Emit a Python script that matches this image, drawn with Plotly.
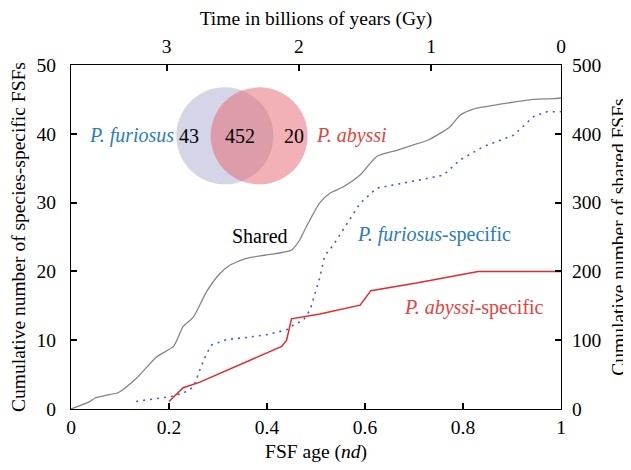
import plotly.graph_objects as go

# Data
shared_x = [0, 0.039, 0.049, 0.073, 0.097, 0.134, 0.175, 0.209, 0.229, 0.25, 0.277, 0.304, 0.324, 0.358,
            0.399, 0.45, 0.467, 0.481, 0.508, 0.529, 0.556, 0.59, 0.624, 0.665, 0.699, 0.729, 0.773,
            0.794, 0.821, 0.876, 0.944, 0.984, 1.0]
shared_y = [0, 11, 16, 20, 24, 45, 76, 91, 120, 134, 171, 197, 209, 219, 224, 231, 246, 266, 300, 314,
            323, 340, 367, 376, 384, 391, 410, 427, 436, 443, 450, 451, 452]

furiosus_x = [0.133, 0.202, 0.229, 0.25, 0.263, 0.277, 0.287, 0.318, 0.358, 0.399, 0.44, 0.454, 0.474,
              0.488, 0.508, 0.518, 0.535, 0.563, 0.59, 0.624, 0.671, 0.712, 0.76, 0.794, 0.841, 0.903,
              0.944, 0.971, 1.0]
furiosus_y = [1.1, 1.8, 2.3, 3.2, 5.7, 8.1, 9.3, 10.1, 10.4, 10.8, 11.5, 12.2, 12.9, 14.4, 19.2, 22.3,
              23.8, 27.0, 29.9, 32.1, 32.8, 33.3, 34.0, 36.2, 38.1, 39.8, 42.5, 43.2, 43.2]

abyssi_x = [0.2, 0.229, 0.263, 0.43, 0.44, 0.45, 0.508, 0.59, 0.612, 0.705, 0.831, 1.0]
abyssi_y = [1.1, 3.1, 3.9, 9.1, 10.0, 13.1, 13.8, 15.1, 17.2, 18.3, 20.0, 20.0]

venn_counts = ["43", "452", "20"]
species = ["P. furiosus", "P. abyssi"]

x_ticks = [0, 0.2, 0.4, 0.6, 0.8, 1]
x_ticktext = ["0", "0.2", "0.4", "0.6", "0.8", "1"]
gy_tickvals = [0.195, 0.465, 0.735, 1.0]
gy_ticktext = ["3", "2", "1", "0"]

FONT = "Liberation Serif"
BLUE_TXT = "#2a7cbf"
RED_TXT = "#e8413c"
TS = 20     # annotation size
TTS = 19.5  # axis title size
KS = 19.5   # tick size

fig = go.Figure()

fig.add_trace(go.Scatter(x=shared_x, y=shared_y, mode="lines", yaxis="y2",
                         line=dict(color="#858585", width=1.3, shape="spline", smoothing=0.6),
                         showlegend=False))
fig.add_trace(go.Scatter(x=furiosus_x, y=furiosus_y, mode="lines",
                         line=dict(color="#3b5fcc", width=1.6, dash="2px,5px"),
                         showlegend=False))
fig.add_trace(go.Scatter(x=abyssi_x, y=abyssi_y, mode="lines",
                         line=dict(color="#e8282a", width=1.5),
                         showlegend=False))
# invisible trace to activate top axis
fig.add_trace(go.Scatter(x=[0, 1], y=[0, 0], xaxis="x2", mode="markers",
                         marker=dict(opacity=0), showlegend=False, hoverinfo="skip"))

# Venn circles (data coords on left axis)
cy, ry, rx = 39.7, 7.05, 0.099
fig.add_shape(type="circle", xref="x", yref="y", x0=0.314 - rx, x1=0.314 + rx, y0=cy - ry, y1=cy + ry,
              fillcolor="rgba(170,172,207,0.5)", line=dict(width=0))
fig.add_shape(type="circle", xref="x", yref="y", x0=0.384 - rx, x1=0.384 + rx, y0=cy - ry, y1=cy + ry,
              fillcolor="rgba(230,100,110,0.5)", line=dict(width=0))

tf = dict(family=FONT, size=TS, color="black")
fig.add_annotation(x=0.217, y=cy, text=venn_counts[0], showarrow=False, font=tf, xanchor="left")
fig.add_annotation(x=0.345, y=cy, text=venn_counts[1], showarrow=False, font=tf)
fig.add_annotation(x=0.430, y=cy, text=venn_counts[2], showarrow=False, font=tf, xanchor="left")
fig.add_annotation(x=0.215, y=cy, text="<i>%s</i>" % species[0], showarrow=False,
                   font=dict(family=FONT, size=TS, color=BLUE_TXT), xanchor="right")
fig.add_annotation(x=0.495, y=cy, text="<i>%s</i>" % species[1], showarrow=False,
                   font=dict(family=FONT, size=TS, color=RED_TXT), xanchor="left")
fig.add_annotation(x=0.385, y=25.2, text="Shared", showarrow=False,
                   font=dict(family=FONT, size=TS, color="black"))
fig.add_annotation(x=0.58, y=25.4, text="<i>P. furiosus</i>-specific", showarrow=False,
                   font=dict(family=FONT, size=TS, color=BLUE_TXT), xanchor="left")
fig.add_annotation(x=0.676, y=14.8, text="<i>P. abyssi</i>-specific", showarrow=False,
                   font=dict(family=FONT, size=TS, color=RED_TXT), xanchor="left")

axis_common = dict(showgrid=False, zeroline=False, showline=True, linecolor="black", linewidth=1.2,
                   ticks="inside", ticklen=6, tickwidth=1.5, tickcolor="black", automargin=False,
                   tickfont=dict(family=FONT, size=KS, color="black"))

fig.update_layout(
    width=623, height=462,
    margin=dict(l=63, r=70, t=57, b=61),
    plot_bgcolor="white", paper_bgcolor="white",
    font=dict(family=FONT, size=KS, color="black"),
    xaxis=dict(range=[0, 1], tickvals=x_ticks, ticktext=x_ticktext,
               title=dict(text="FSF age (<i>nd</i>)", font=dict(family=FONT, size=TTS), standoff=7),
               **axis_common),
    xaxis2=dict(range=[0, 1], overlaying="x", side="top", anchor="y", tickvals=gy_tickvals,
                ticktext=gy_ticktext, ticklabelstandoff=3,
                title=dict(text="Time in billions of years (Gy)", font=dict(family=FONT, size=TTS), standoff=8),
                **axis_common),
    yaxis=dict(range=[0, 50], tickvals=[0, 10, 20, 30, 40, 50], ticklabelstandoff=10,
               title=dict(text="Cumulative number of species-specific FSFs", font=dict(family=FONT, size=TTS),
                          standoff=6),
               **axis_common),
    yaxis2=dict(range=[0, 500], overlaying="y", side="right", anchor="x",
                tickvals=[0, 100, 200, 300, 400, 500], ticklabelstandoff=6,
                title=dict(text="Cumulative number of shared FSFs", font=dict(family=FONT, size=TTS),
                           standoff=11),
                **axis_common),
)

fig.write_html("out.html")
